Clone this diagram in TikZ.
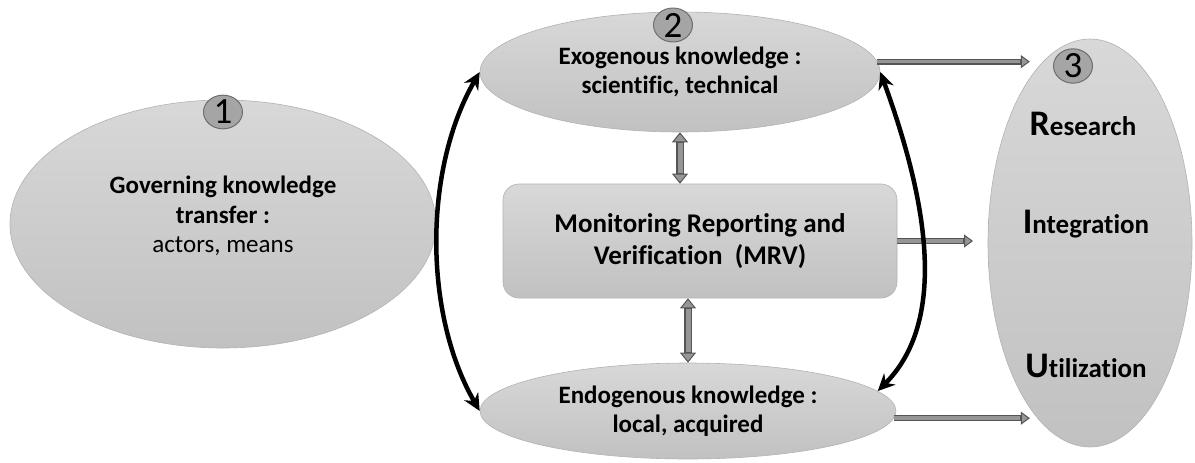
\documentclass[tikz,border=0pt]{standalone}
\usepackage{fontspec}
\setmainfont{Carlito}[Ligatures=NoCommon]
\usetikzlibrary{shapes.geometric, arrows.meta}

\definecolor{bubtop}{RGB}{216,216,216}
\definecolor{bubbot}{RGB}{193,193,193}
\definecolor{tagfill}{RGB}{165,165,165}
\definecolor{tagline}{RGB}{110,110,110}
\definecolor{shaftdark}{RGB}{85,85,85}
\definecolor{shaftlight}{RGB}{150,150,150}

\newcommand{\bigini}[1]{{\fontsize{36}{36}\selectfont #1}}

\begin{document}
\begin{tikzpicture}[x=1pt, y=1pt,
  bubble/.style={ellipse, draw=black!30, line width=0.6pt, top color=bubtop, bottom color=bubbot, inner sep=0pt},
  box/.style={rectangle, rounded corners=16pt, draw=black!30, line width=0.6pt, top color=bubtop, bottom color=bubbot, inner sep=0pt},
  txt/.style={align=center, font=\fontsize{25}{29.5}\selectfont\bfseries},
  riutxt/.style={anchor=base, font=\fontsize{27}{27}\selectfont\bfseries},
  numtag/.style={ellipse, draw=tagline, fill=tagfill, line width=1pt, minimum width=39pt, minimum height=30pt, inner sep=0pt, font=\fontsize{37}{37}\selectfont},
  linkarrow/.style={line width=4.5pt, {Stealth[length=17pt,width=16pt]}-{Stealth[length=17pt,width=16pt]}},
  flowarrow/.style={draw=shaftdark, line width=6pt, -{Triangle[length=9pt,width=13pt,fill=shaftlight,line width=1pt]},
    postaction={draw=shaftlight, line width=3.5pt, shorten >=10pt, -}},
  dblarrow/.style={draw=shaftdark, line width=8pt, {Triangle[length=10pt,width=16pt,fill=shaftlight,line width=1pt]}-{Triangle[length=10pt,width=16pt,fill=shaftlight,line width=1pt]},
    postaction={draw=shaftlight, line width=5pt, shorten >=11pt, shorten <=11pt, -}}]
\useasboundingbox (0,0) rectangle (1195,-463);

% Bubbles
\node[bubble, minimum width=426pt, minimum height=248pt] (gov) at (223,-224) {};
\node[txt] (govtext) at (223,-216) {Governing knowledge\\transfer :\\{\mdseries actors, means}};
\node[bubble, txt, minimum width=400pt, minimum height=120pt] (exo) at (680,-72) {Exogenous knowledge :\\scientific, technical};
\node[bubble, txt, minimum width=416pt, minimum height=96pt] (endo) at (688,-411) {Endogenous knowledge :\\local, acquired};
\node[box, txt, font=\fontsize{27}{32}\selectfont\bfseries, minimum width=394pt, minimum height=114pt] (mrv) at (700,-241) {Monitoring Reporting and\\Verification~~(MRV)};
\node[bubble, minimum width=204pt, minimum height=408pt] (riu) at (1090,-243) {};
\node[riutxt] (res) at (1083,-135) {\bigini{R}esearch};
\node[riutxt] (integ) at (1086,-233) {\bigini{I}ntegration};
\node[riutxt] (util) at (1086,-377) {\bigini{U}tilization};

% Flows
\draw[flowarrow] (exo.3) -- (exo.3 -| riu.110);
\draw[flowarrow] (mrv.east) -- (973,-241);
\draw[flowarrow] (endo.-2) -- (endo.-2 -| riu.-110);
\draw[dblarrow] (exo.south) -- (exo.south |- mrv.north);
\draw[dblarrow] (mrv.south -| endo.north) -- (endo.north);

% Links
\draw[linkarrow] (exo.west) to[out=240, in=120, looseness=0.85] (endo.west);
\draw[linkarrow] (exo.east) to[out=-70, in=45, looseness=0.88] (endo.6);

% Tags
\node[numtag] (n1) at (223,-112) {1};
\node[numtag] (n2) at (673,-25) {2};
\node[numtag] (n3) at (1073,-66) {3};
\end{tikzpicture}
\end{document}
